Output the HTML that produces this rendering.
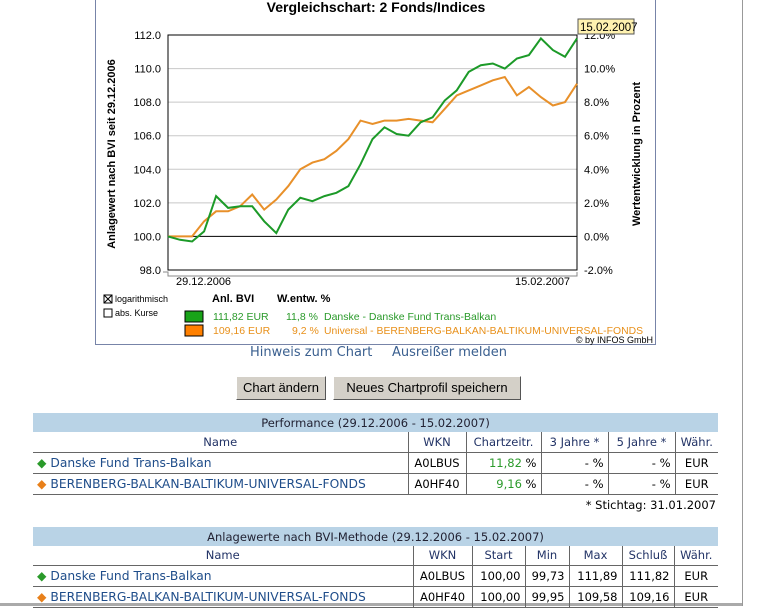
<!DOCTYPE html>
<html><head><meta charset="utf-8">
<style>
body{margin:0;width:759px;height:606px;background:#fff;overflow:hidden;position:relative;font-family:"DejaVu Sans","Liberation Sans",sans-serif;}
.abs{position:absolute}
table{border-collapse:collapse;position:absolute;left:33px;width:685px;font-size:12px;table-layout:fixed}
td{padding:0 4px;white-space:nowrap;overflow:hidden}
.cap td{background:#b9d3e6;text-align:center;color:#223;font-size:11.5px;border:none}
.hd td{text-align:center;color:#223366;border-left:1px solid #666;border-bottom:1px solid #666;font-size:11.5px}
.hd td:first-child{border-left:none}
.rw td{border-left:1px solid #666;border-bottom:1px solid #666;text-align:right;font-size:11.5px;color:#000}
.rw td:first-child{border-left:none;text-align:left;color:#1f4d8a;font-size:12.3px}
.g{color:#2a9a2a}.o{color:#e8801a}
.btn{position:absolute;top:376px;height:22px;background:#d4d0c8;border:1px solid;border-color:#fff #555 #555 #fff;font-size:13px;font-family:"Liberation Sans",sans-serif;line-height:21px;text-align:center}
</style></head><body>
<div class="abs" style="left:742px;top:0;width:1px;height:606px;background:#999"></div>
<div class="abs" style="left:0;top:603px;width:742px;height:3px;background:#aaa"></div>
<div class="abs" style="left:95px;top:-1px;width:559px;height:345px;border:1px solid #7784a8;border-top:none"></div>
<svg class="abs" style="left:0;top:0" width="759" height="350" font-family="Liberation Sans, sans-serif">
<text x="376" y="12" text-anchor="middle" font-weight="bold" font-size="14">Vergleichschart: 2 Fonds/Indices</text>
<g id="grid"></g>
<g id="lines"></g>
<text transform="translate(115,154) rotate(-90)" text-anchor="middle" font-weight="bold" font-size="11">Anlagewert nach BVI seit 29.12.2006</text>
<text transform="translate(640,154) rotate(-90)" text-anchor="middle" font-weight="bold" font-size="11">Wertentwicklung in Prozent</text>
<polyline points="163,272 168,272 168,276 577,276 577,272" fill="none" stroke="#888" stroke-width="1"/>
<text x="176" y="285" font-size="11">29.12.2006</text>
<text x="515" y="285" font-size="11">15.02.2007</text>
<rect x="578" y="19" width="56" height="15" fill="#fff2b0" stroke="#555"/>
<text x="580" y="31" font-size="11.5">15.02.2007</text>
<rect x="104" y="295" width="8" height="8" fill="#fff" stroke="#000"/><path d="M104 295l8 8M112 295l-8 8" stroke="#000"/>
<text x="115" y="302" font-size="9">logarithmisch</text>
<rect x="104" y="309" width="8" height="8" fill="#fff" stroke="#000"/>
<text x="115" y="316" font-size="9">abs. Kurse</text>
<text x="212" y="302" font-size="11" font-weight="bold">Anl. BVI</text>
<text x="277" y="302" font-size="11" font-weight="bold">W.entw. %</text>
<rect x="185" y="311" width="18" height="11" fill="#19a319" stroke="#000"/>
<text x="213" y="320" font-size="10.5" fill="#2a9a2a">111,82 EUR<tspan x="286">11,8 %</tspan><tspan x="324">Danske - Danske Fund Trans-Balkan</tspan></text>
<rect x="185" y="325" width="18" height="11" fill="#ff8000" stroke="#000"/>
<text x="213" y="334" font-size="10.5" fill="#e8901a">109,16 EUR<tspan x="292">9,2 %</tspan></text>
<text x="324" y="334" font-size="10.5" fill="#e8901a" textLength="319" lengthAdjust="spacingAndGlyphs">Universal - BERENBERG-BALKAN-BALTIKUM-UNIVERSAL-FONDS</text>
<text x="653" y="343" font-size="9" text-anchor="end">© by INFOS GmbH</text>
</svg>
<div class="abs" style="left:250px;top:345px;font-size:13px;color:#3a5f8f">Hinweis zum Chart</div>
<div class="abs" style="left:392px;top:345px;font-size:13px;color:#3a5f8f">Ausreißer melden</div>
<div class="btn" style="left:236px;width:88px">Chart ändern</div>
<div class="btn" style="left:333px;width:186px">Neues Chartprofil speichern</div>

<table style="top:413px">
<colgroup><col style="width:375px"><col style="width:58px"><col style="width:75px"><col style="width:67px"><col style="width:67px"><col style="width:43px"></colgroup>
<tr class="cap" style="height:19px"><td colspan="6">Performance (29.12.2006 - 15.02.2007)</td></tr>
<tr class="hd" style="height:20px"><td>Name</td><td>WKN</td><td>Chartzeitr.</td><td>3 Jahre *</td><td>5 Jahre *</td><td>Währ.</td></tr>
<tr class="rw" style="height:21px"><td><span class="g">◆</span> Danske Fund Trans-Balkan</td><td style="text-align:center">A0LBUS</td><td><span class="g">11,82</span> %</td><td>- %</td><td>- %</td><td style="text-align:center">EUR</td></tr>
<tr class="rw" style="height:21px"><td><span class="o">◆</span> BERENBERG-BALKAN-BALTIKUM-UNIVERSAL-FONDS</td><td style="text-align:center">A0HF40</td><td><span class="g">9,16</span> %</td><td>- %</td><td>- %</td><td style="text-align:center">EUR</td></tr>
</table>
<div class="abs" style="left:580px;top:498px;font-size:11.5px;width:136px;text-align:right">* Stichtag: 31.01.2007</div>

<table style="top:527px">
<colgroup><col style="width:380px"><col style="width:59px"><col style="width:53px"><col style="width:44px"><col style="width:53px"><col style="width:52px"><col style="width:44px"></colgroup>
<tr class="cap" style="height:19px"><td colspan="7">Anlagewerte nach BVI-Methode (29.12.2006 - 15.02.2007)</td></tr>
<tr class="hd" style="height:19px"><td>Name</td><td>WKN</td><td>Start</td><td>Min</td><td>Max</td><td>Schluß</td><td>Währ.</td></tr>
<tr class="rw" style="height:21px"><td><span class="g">◆</span> Danske Fund Trans-Balkan</td><td style="text-align:center">A0LBUS</td><td>100,00</td><td>99,73</td><td>111,89</td><td>111,82</td><td style="text-align:center">EUR</td></tr>
<tr class="rw" style="height:21px"><td><span class="o">◆</span> BERENBERG-BALKAN-BALTIKUM-UNIVERSAL-FONDS</td><td style="text-align:center">A0HF40</td><td>100,00</td><td>99,95</td><td>109,58</td><td>109,16</td><td style="text-align:center">EUR</td></tr>
</table>

<script>
const yTicks=[98,100,102,104,106,108,110,112];
const pctTicks=["-2.0%","0.0%","2.0%","4.0%","6.0%","8.0%","10.0%","12.0%"];
const greenValues=[100,99.8,99.7,100.3,102.4,101.7,101.8,101.8,100.9,100.2,101.6,102.3,102.1,102.4,102.6,103.0,104.3,105.8,106.5,106.1,106.0,106.8,107.1,108.1,108.7,109.8,110.2,110.3,110.0,110.6,110.8,111.8,111.1,110.7,111.8];
const orangeValues=[100,100,100,100.9,101.5,101.5,101.8,102.5,101.6,102.2,103.0,104.0,104.4,104.6,105.1,105.8,106.9,106.7,106.9,106.9,107.0,106.9,106.8,107.6,108.4,108.7,109.0,109.3,109.5,108.4,108.9,108.3,107.8,108.0,109.1];
const NS="http://www.w3.org/2000/svg";
const L=168,R=577,T=35,B=270,ymin=98,ymax=112;
const yS=v=>B-(v-ymin)/(ymax-ymin)*(B-T);
const xS=(i,n)=>L+i*(R-L)/(n-1);
const grid=document.getElementById('grid'),lines=document.getElementById('lines');
function mk(tag,attrs,parent){const e=document.createElementNS(NS,tag);for(const k in attrs)e.setAttribute(k,attrs[k]);parent.appendChild(e);return e;}
yTicks.forEach((v,i)=>{
  const y=yS(v);
  if(v!==ymin&&v!==ymax&&v!==100){const g=mk('line',{x1:L,x2:R,y1:y,y2:y,stroke:'#c8c8c8'},grid);
  
  }
  const t=mk('text',{x:L-7,y:y+4,'text-anchor':'end','font-size':11},grid);t.textContent=v.toFixed(1);
  
  
  const t2=mk('text',{x:R+7,y:y+4,'font-size':11},grid);t2.textContent=pctTicks[i];
  
  
});
mk('rect',{x:L,y:T,width:R-L,height:B-T,fill:'none',stroke:'#000'},grid);
mk('line',{x1:L,x2:R,y1:yS(100),y2:yS(100),stroke:'#000'},grid);
function series(vals,color,name){
  const p=vals.map((v,i)=>xS(i,vals.length).toFixed(1)+','+yS(v).toFixed(1)).join(' ');
  const pl=mk('polyline',{points:p,fill:'none',stroke:color,'stroke-width':2},lines);
  
  
}
series(orangeValues,'#e8902a','orange-series-line');
series(greenValues,'#1c9a28','green-series-line');
</script>
</body></html>
